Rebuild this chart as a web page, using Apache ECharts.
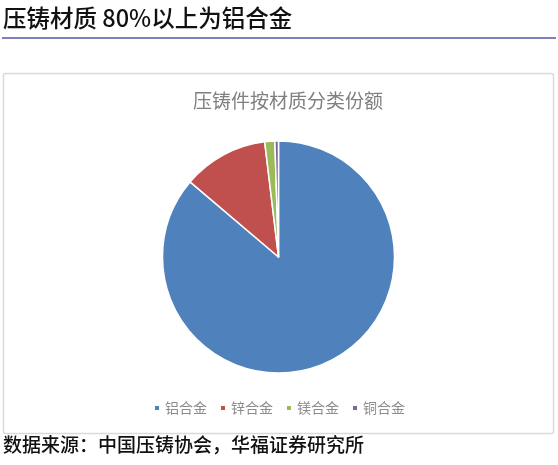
<!DOCTYPE html>
<html>
<head>
<meta charset="utf-8">
<script src="https://cdn.jsdelivr.net/npm/echarts@6/dist/echarts.min.js"></script>
<style>
html,body{margin:0;padding:0;background:#fff;}
#c{width:558px;height:465px;}
</style>
</head>
<body>
<div id="c"></div>
<script>
var pageTitle = '压铸材质 80%以上为铝合金';
var chartTitle = '压铸件按材质分类份额';
var sourceText = '数据来源：中国压铸协会，华福证券研究所';
var categories = ['铝合金', '锌合金', '镁合金', '铜合金'];
var shares = [86.2, 11.9, 1.4, 0.5];
var colors = ['#4F81BD', '#C0504D', '#9BBB59', '#8064A2'];

var chart = echarts.init(document.getElementById('c'), null, {renderer: 'canvas'});
var font = '"Noto Sans CJK SC", "Noto Sans", sans-serif';
chart.setOption({
  animation: false,
  color: colors,
  graphic: [
    {type: 'line', shape: {x1: 2, y1: 38, x2: 556, y2: 38}, style: {stroke: '#7F7FB9', lineWidth: 2}},
    {type: 'rect', shape: {x: 3.5, y: 73.5, width: 550, height: 360, r: 2}, style: {fill: 'none', stroke: '#D9D9D9', lineWidth: 1.5}},
    {type: 'text', left: 3, top: 6, style: {text: pageTitle, font: '500 23.5px ' + font, fill: '#111'}},
    {type: 'text', left: 3, top: 435, style: {text: sourceText, font: '500 19px ' + font, fill: '#111'}}
  ],
  title: {
    text: chartTitle,
    left: 188,
    top: 86,
    textStyle: {fontFamily: font, fontSize: 19, fontWeight: 'normal', color: '#7F7F7F'}
  },
  legend: {
    data: categories,
    bottom: 45,
    left: 'center',
    icon: 'rect',
    itemWidth: 6,
    itemHeight: 6,
    itemGap: 12,
    textStyle: {fontFamily: font, fontSize: 14, color: '#8C8C8C'}
  },
  series: [{
    type: 'pie',
    center: [278.5, 257],
    radius: 116,
    startAngle: 90,
    clockwise: true,
    label: {show: false},
    labelLine: {show: false},
    emphasis: {disabled: true},
    itemStyle: {borderColor: '#fff', borderWidth: 1.5},
    data: categories.map(function (c, i) { return {name: c, value: shares[i]}; })
  }]
});
</script>
</body>
</html>
